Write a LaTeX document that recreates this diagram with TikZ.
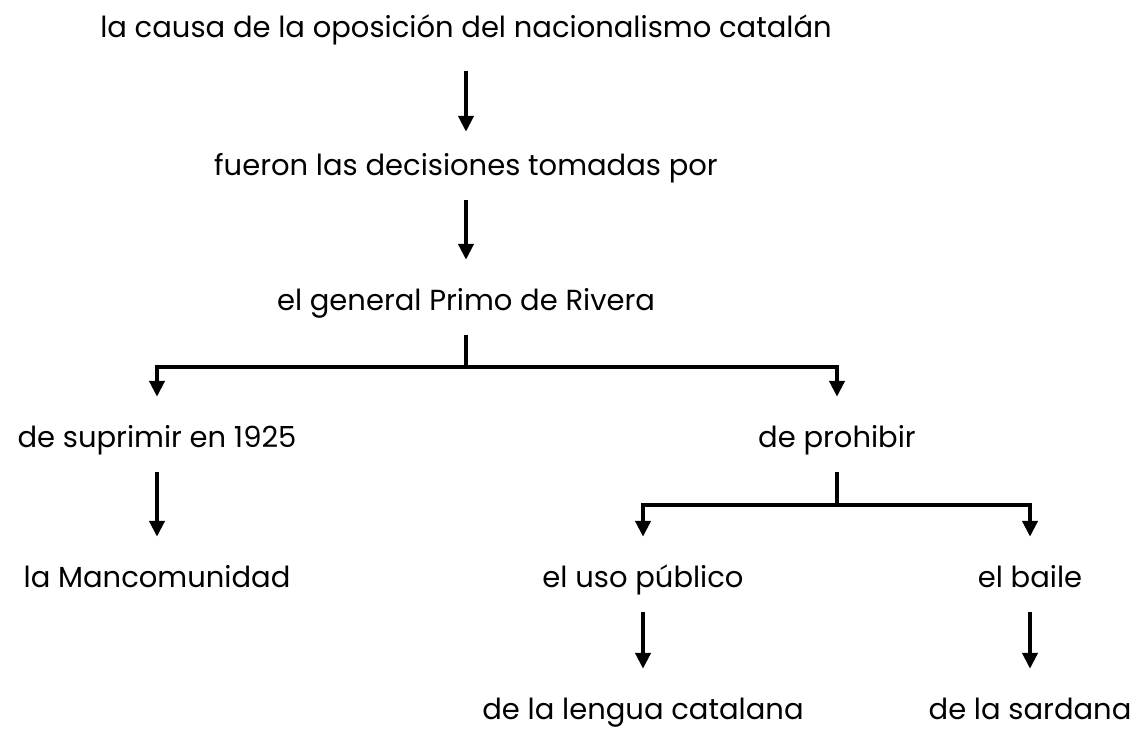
\documentclass[tikz,border=0pt]{standalone}
\usepackage{fontspec}
\setmainfont{Poppins}
\usetikzlibrary{arrows.meta}

\begin{document}
\begin{tikzpicture}[x=1pt,y=-1pt,
  texto/.style={anchor=base,inner sep=0pt,text height=19.5pt,text depth=6.5pt,font=\fontsize{29}{34}\selectfont},
  flecha/.style={black,line width=4pt,-{Triangle[width=15pt,length=16pt]},shorten <=18.5pt,shorten >=30.5pt}]

\useasboundingbox (0,0) rectangle (1139,728);

\node[texto] (causa) at (466,37) {la causa de la oposición del nacionalismo catalán};
\node[texto] (fueron) at (466,175) {fueron las decisiones tomadas por};
\node[texto] (primo) at (466,310) {el general Primo de Rivera};
\node[texto] (suprimir) at (157,447) {de suprimir en 1925};
\node[texto] (prohibir) at (837,447) {de prohibir};
\node[texto] (mancom) at (157,587) {la Mancomunidad};
\node[texto] (uso) at (643,587) {el uso público};
\node[texto] (baile) at (1030,587) {el baile};
\node[texto] (lengua) at (643,719) {de la lengua catalana};
\node[texto] (sardana) at (1030,719) {de la sardana};

\draw[flecha,shorten <=27pt,shorten >=23.5pt] (causa.south) -- (fueron.north);
\draw[flecha] (fueron.south) -- (primo.north);
\draw[flecha] (primo.south) -- ++(0,50.5) -| (suprimir.north);
\draw[flecha] (primo.south) -- ++(0,50.5) -| (prohibir.north);
\draw[flecha] (suprimir.south) -- (mancom.north);
\draw[flecha] (prohibir.south) -- ++(0,51.5) -| (uso.north);
\draw[flecha] (prohibir.south) -- ++(0,51.5) -| (baile.north);
\draw[flecha] (uso.south) -- (lengua.north);
\draw[flecha] (baile.south) -- (sardana.north);

\end{tikzpicture}
\end{document}
